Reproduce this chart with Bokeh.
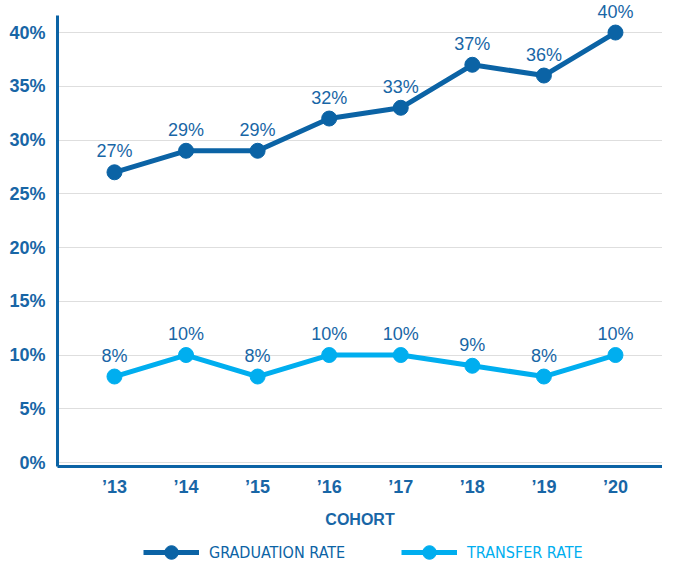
from bokeh.plotting import figure
from bokeh.layouts import column
from bokeh.models import (ColumnDataSource, Range1d, FixedTicker, Legend,
                          LegendItem, LabelSet)
from bokeh.core.properties import value
from bokeh.embed import file_html
from bokeh.resources import INLINE

# ---- data ----
cohorts = ["\u201913", "\u201914", "\u201915", "\u201916", "\u201917", "\u201918", "\u201919", "\u201920"]
graduation_rate = [27, 29, 29, 32, 33, 37, 36, 40]
transfer_rate = [8, 10, 8, 10, 10, 9, 8, 10]
y_ticks = [0, 5, 10, 15, 20, 25, 30, 35, 40]
y_tick_labels = ["0%", "5%", "10%", "15%", "20%", "25%", "30%", "35%", "40%"]
series_names = ["GRADUATION RATE", "TRANSFER RATE"]

DARK = "#0b63a5"
LIGHT = "#00aeef"
TEXT = "#1866a6"
FONT = "Liberation Sans"
NARROW = "Liberation Sans Narrow, DejaVu Sans Condensed, Liberation Sans"

idx = list(range(len(cohorts)))
src_g = ColumnDataSource(dict(x=idx, y=graduation_rate,
                              lab=[f"{v}%" for v in graduation_rate]))
src_t = ColumnDataSource(dict(x=idx, y=transfer_rate,
                              lab=[f"{v}%" for v in transfer_rate]))

Y0, Y1 = -0.37, 42.98
p = figure(width=662, height=530, output_backend="svg", toolbar_location=None,
           x_range=Range1d(-0.796, 7.657), y_range=Range1d(Y0, Y1),
           min_border_left=57, min_border_right=0, min_border_top=0,
           min_border_bottom=64)
p.outline_line_color = None
p.background_fill_color = "white"
p.border_fill_color = "white"

# axes
p.yaxis.ticker = FixedTicker(ticks=y_ticks)
p.yaxis.major_label_overrides = {t: l for t, l in zip(y_ticks, y_tick_labels)}
p.yaxis.bounds = (Y0, 41.58)
p.xaxis.ticker = FixedTicker(ticks=idx)
p.xaxis.major_label_overrides = {i: c for i, c in zip(idx, cohorts)}
for ax in (p.xaxis[0], p.yaxis[0]):
    ax.axis_line_color = DARK
    ax.axis_line_width = 3
    ax.major_tick_line_color = None
    ax.minor_tick_line_color = None
    ax.major_tick_out = 0
    ax.major_tick_in = 0
    ax.major_label_text_font = FONT
    ax.major_label_text_font_style = "bold"
    ax.major_label_text_font_size = "18px"
    ax.major_label_text_color = TEXT
p.yaxis.major_label_standoff = 12
p.xaxis.major_label_standoff = 10
p.xaxis.axis_label = "COHORT"
p.xaxis.axis_label_text_font = FONT
p.xaxis.axis_label_text_font_style = "bold"
p.xaxis.axis_label_text_font_size = "16px"
p.xaxis.axis_label_text_color = TEXT
p.xaxis.axis_label_standoff = 11

p.xgrid.grid_line_color = None
p.ygrid.ticker = FixedTicker(ticks=y_ticks)
p.ygrid.grid_line_color = "#dedede"
p.ygrid.grid_line_width = 1.2

# series
for src, col in ((src_g, DARK), (src_t, LIGHT)):
    p.line("x", "y", source=src, line_color=col, line_width=5)
    p.scatter("x", "y", source=src, size=15, fill_color=col, line_color=col)
    p.add_layout(LabelSet(x="x", y="y", text="lab", source=src, y_offset=15,
                          text_align="center", text_baseline="alphabetic",
                          text_font=value(FONT), text_font_size="18px",
                          text_color=TEXT))

# ---- legend strip (separate figure so each label keeps its own colour) ----
q = figure(width=662, height=30, output_backend="svg", toolbar_location=None,
           x_range=Range1d(100, 101), y_range=Range1d(100, 101),
           min_border_left=0, min_border_right=0, min_border_top=0,
           min_border_bottom=0)
q.axis.visible = False
q.grid.grid_line_color = None
q.outline_line_color = None
q.border_fill_color = "white"

leg_specs = ((series_names[0], src_g, DARK, 86), (series_names[1], src_t, LIGHT, 344))
for name, src, col, xloc in leg_specs:
    lr = q.line("x", "y", source=src, line_color=col, line_width=5)
    sr = q.scatter("x", "y", source=src, fill_color=col, line_color=col)
    leg = Legend(items=[LegendItem(label=name, renderers=[lr, sr])],
                 location=(xloc, -9), orientation="horizontal",
                 glyph_width=56, glyph_height=34, label_standoff=10,
                 padding=0, margin=0, spacing=0,
                 border_line_color=None, background_fill_alpha=0,
                 label_text_font=NARROW, label_text_font_size="16px",
                 label_text_color=col)
    q.add_layout(leg, "center")

layout = column(p, q, spacing=0)
open("out.html", "w").write(file_html(layout, INLINE))
